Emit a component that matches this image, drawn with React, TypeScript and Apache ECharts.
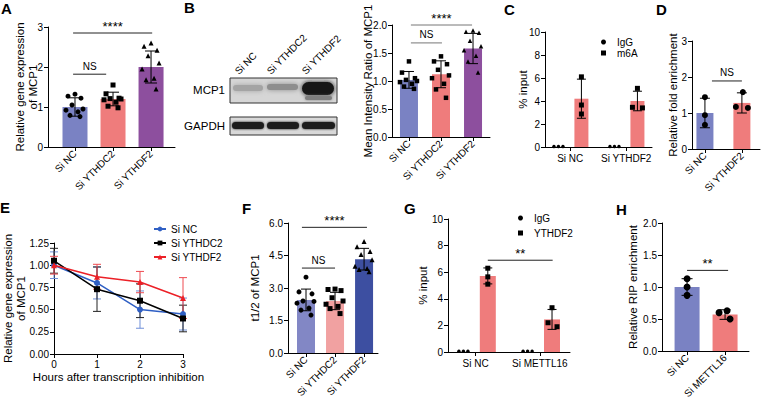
import React, { useEffect, useRef } from 'react';
import * as echarts from 'echarts';

const FONT = '"Liberation Sans", Arial, Helvetica, sans-serif';

// ---------- categories ----------
const catsThree = ['Si NC', 'Si YTHDC2', 'Si YTHDF2'];
const catsTwoF2 = ['Si NC', 'Si YTHDF2'];
const catsTwoM16 = ['Si NC', 'Si METTL16'];

// ---------- A ----------
const aMean = [1.0, 1.2, 2.0];
const aSD = [0.23, 0.17, 0.4];
const aSiNC = [1.32, 1.27, 1.22, 1.05, 0.95, 0.92, 0.88, 0.79, 0.76];
const aSiYTHDC2 = [1.55, 1.33, 1.22, 1.21, 1.2, 1.18, 1.12, 1.02, 0.98];
const aSiYTHDF2 = [2.6, 2.52, 2.42, 2.28, 2.1, 1.95, 1.72, 1.68, 1.45];

// ---------- B ----------
const bMean = [1.02, 1.12, 1.58];
const bSD = [0.15, 0.24, 0.27];
const bSiNC = [1.35, 1.15, 1.05, 1.02, 1.0, 0.98, 0.95, 0.9, 0.86];
const bSiYTHDC2 = [1.44, 1.35, 1.3, 1.2, 1.1, 1.05, 0.95, 0.85, 0.7];
const bSiYTHDF2 = [1.9, 1.88, 1.86, 1.72, 1.62, 1.55, 1.45, 1.35, 1.15];

// ---------- C ----------
const cM6AMean = [4.2, 4.0];
const cM6ASD = [1.7, 0.85];
const cIgGNC = [0.05, 0.05, 0.05];
const cIgGF2 = [0.05, 0.05, 0.05];
const cM6ANC = [6.1, 3.65, 2.87];
const cM6AF2 = [5.1, 3.45, 3.4];

// ---------- D ----------
const dMean = [1.0, 1.28];
const dSD = [0.41, 0.28];
const dSiNC = [1.44, 0.94, 0.67];
const dSiYTHDF2 = [1.58, 1.17, 1.14];

// ---------- E ----------
const eHours = [0, 1, 2, 3];
const eSiNC = [1.0, 0.8, 0.5, 0.45];
const eSiNCsd = [0.15, 0.18, 0.21, 0.18];
const eSiYTHDC2 = [1.05, 0.73, 0.6, 0.4];
const eSiYTHDC2sd = [0.14, 0.25, 0.19, 0.15];
const eSiYTHDF2 = [1.0, 0.87, 0.81, 0.63];
const eSiYTHDF2sd = [0.1, 0.14, 0.12, 0.23];

// ---------- F ----------
const fMean = [2.45, 2.4, 4.33];
const fSD = [0.5, 0.4, 0.5];
const fSiNC = [3.5, 2.82, 2.73, 2.4, 2.38, 2.3, 2.07, 1.98, 1.75];
const fSiYTHDC2 = [2.95, 2.93, 2.88, 2.55, 2.4, 2.25, 2.15, 2.05, 1.82];
const fSiYTHDF2 = [5.15, 4.9, 4.68, 4.55, 4.3, 4.0, 3.9, 3.85, 3.75];

// ---------- G ----------
const gYTHDF2Mean = [5.72, 2.45];
const gYTHDF2SD = [0.6, 0.75];
const gIgGNC = [0.05, 0.05, 0.05];
const gIgGM16 = [0.05, 0.05, 0.05];
const gYTHDF2NC = [6.3, 5.65, 5.1];
const gYTHDF2M16 = [3.33, 2.2, 1.9];

// ---------- H ----------
const hMean = [1.0, 0.57];
const hSD = [0.13, 0.075];
const hSiNC = [1.13, 1.0, 0.87];
const hSiMETTL16 = [0.63, 0.6, 0.5];

// jitter patterns (pixels)
const J9 = [0, -7, 6, -3, 8, -9, 3, -5, 5];
const J3V = [0, 0, 0];
const J3H = [-4.5, 0, 4.5];

const BLUE = '#7a82c3';
const SALMON = '#ef7c7c';
const PURPLE = '#8d4f9e';

interface DotGroup { x: number; vals: number[]; sym: string; size: number; jit: number[] }
interface BarItem { x: number; mean: number; sd: number; color: string }
interface Bracket { x1: number; x2: number; y: number; label: string }
interface BarPanel {
  left: number; top: number; width: number; height: number;
  xMin: number; xMax: number; yMax: number; yStep: number; yDigits: number;
  cats: string[]; catPos: number[]; rotate: number;
  yName: string; nameGap: number; bw: number; cap: number; bracketColor: string;
  bars: BarItem[]; dots: DotGroup[]; brackets: Bracket[];
}

const axisLine = { show: true, onZero: false, lineStyle: { color: '#000', width: 1 } };
const tickStyle = { color: '#000', width: 1 };

function errorSeries(gi: number, data: number[][], cap: number, color: string, z: number) {
  return {
    type: 'custom', xAxisIndex: gi, yAxisIndex: gi, z, silent: true, clip: false,
    data,
    renderItem: (_p: any, api: any) => {
      const x = api.value(0), m = api.value(1), s = api.value(2);
      const hi = api.coord([x, m + s]);
      const lo = api.coord([x, m - s]);
      const c = cap / 2;
      const st = { stroke: color, lineWidth: 1 };
      return {
        type: 'group', children: [
          { type: 'line', shape: { x1: hi[0], y1: hi[1], x2: lo[0], y2: lo[1] }, style: st },
          { type: 'line', shape: { x1: hi[0] - c, y1: hi[1], x2: hi[0] + c, y2: hi[1] }, style: st },
          { type: 'line', shape: { x1: lo[0] - c, y1: lo[1], x2: lo[0] + c, y2: lo[1] }, style: st },
        ],
      };
    },
  };
}

function buildBarPanel(p: BarPanel, gi: number) {
  const ppu = p.width / (p.xMax - p.xMin);
  const grid = { left: p.left, top: p.top, width: p.width, height: p.height };
  const labelFor = (v: number) => {
    const i = p.catPos.findIndex((c) => Math.abs(c - v) < 1e-6);
    return i >= 0 ? p.cats[i] : '';
  };
  const xAxis = {
    gridIndex: gi, type: 'value', min: p.xMin, max: p.xMax,
    axisLine, splitLine: { show: false },
    axisTick: { show: true, customValues: p.catPos, length: 4, lineStyle: tickStyle },
    axisLabel: {
      show: true, customValues: p.catPos, formatter: labelFor, rotate: p.rotate,
      fontSize: 10, color: '#000', fontFamily: FONT, margin: p.rotate ? 5 : 6,
    },
  };
  const yAxis = {
    gridIndex: gi, type: 'value', min: 0, max: p.yMax, interval: p.yStep,
    axisLine, splitLine: { show: false },
    axisTick: { show: true, length: 4, lineStyle: tickStyle },
    axisLabel: { fontSize: 10, color: '#000', fontFamily: FONT, margin: 5, formatter: (v: number) => v.toFixed(p.yDigits) },
    name: p.yName, nameLocation: 'middle', nameGap: p.nameGap, nameRotate: 90, nameMoveOverlap: false,
    nameTextStyle: { fontSize: 11.5, color: '#000', fontFamily: FONT, lineHeight: 13 },
  };
  const series: any[] = [];
  const barColors = p.bars.map((b) => b.color);
  series.push({
    type: 'custom', xAxisIndex: gi, yAxisIndex: gi, z: 2, silent: true, clip: false,
    data: p.bars.map((b) => [b.x, b.mean]),
    renderItem: (params: any, api: any) => {
      const x = api.value(0), y = api.value(1);
      const t = api.coord([x, y]);
      const b = api.coord([x, 0]);
      return { type: 'rect', shape: { x: t[0] - p.bw / 2, y: t[1], width: p.bw, height: b[1] - t[1] }, style: { fill: barColors[params.dataIndex] } };
    },
  });
  series.push(errorSeries(gi, p.bars.map((b) => [b.x, b.mean, b.sd]), p.cap, '#000', 3));
  p.dots.forEach((d) => {
    series.push({
      type: 'scatter', xAxisIndex: gi, yAxisIndex: gi, z: 4, silent: true,
      symbol: d.sym, symbolSize: d.size, itemStyle: { color: '#000', opacity: 1 },
      data: d.vals.map((v, i) => [d.x + d.jit[i] / ppu, v]),
    });
  });
  if (p.brackets.length) {
    const br = p.brackets;
    series.push({
      type: 'custom', xAxisIndex: gi, yAxisIndex: gi, z: 5, silent: true, clip: false,
      data: br.map((b) => [b.x1, b.y, b.x2]),
      renderItem: (params: any, api: any) => {
        const b = br[params.dataIndex];
        const p1 = api.coord([b.x1, b.y]);
        const p2 = api.coord([b.x2, b.y]);
        const isNS = b.label === 'NS';
        return {
          type: 'group', children: [
            { type: 'line', shape: { x1: p1[0], y1: p1[1], x2: p2[0], y2: p2[1] }, style: { stroke: p.bracketColor, lineWidth: 1 } },
            {
              type: 'text', x: (p1[0] + p2[0]) / 2, y: p1[1] - (isNS ? 3 : 0),
              style: { text: b.label, fontSize: isNS ? 10 : 13, fontFamily: FONT, fill: '#000', align: 'center', verticalAlign: 'bottom' },
            },
          ],
        };
      },
    });
  }
  return { grid, xAxis, yAxis, series };
}

const panels: BarPanel[] = [
  // A
  {
    left: 48, top: 27, width: 127, height: 120, xMin: -0.71, xMax: 2.63, yMax: 3, yStep: 1, yDigits: 0,
    cats: catsThree, catPos: [0, 1, 2], rotate: 45, yName: 'Relative gene expression\nof MCP1', nameGap: 9, bw: 25, cap: 12, bracketColor: '#222',
    bars: [
      { x: 0, mean: aMean[0], sd: aSD[0], color: BLUE },
      { x: 1, mean: aMean[1], sd: aSD[1], color: SALMON },
      { x: 2, mean: aMean[2], sd: aSD[2], color: PURPLE },
    ],
    dots: [
      { x: 0, vals: aSiNC, sym: 'circle', size: 5, jit: J9 },
      { x: 1, vals: aSiYTHDC2, sym: 'rect', size: 5, jit: J9 },
      { x: 2, vals: aSiYTHDF2, sym: 'triangle', size: 5, jit: J9 },
    ],
    brackets: [
      { x1: -0.05, x2: 0.82, y: 1.82, label: 'NS' },
      { x1: -0.05, x2: 2.03, y: 2.85, label: '****' },
    ],
  },
  // B
  {
    left: 392, top: 25, width: 98, height: 112, xMin: -0.53, xMax: 2.53, yMax: 2, yStep: 0.5, yDigits: 1,
    cats: catsThree, catPos: [0, 1, 2], rotate: 45, yName: 'Mean Intensity Ratio of MCP1', nameGap: 18, bw: 18, cap: 10, bracketColor: '#777',
    bars: [
      { x: 0, mean: bMean[0], sd: bSD[0], color: BLUE },
      { x: 1, mean: bMean[1], sd: bSD[1], color: SALMON },
      { x: 2, mean: bMean[2], sd: bSD[2], color: PURPLE },
    ],
    dots: [
      { x: 0, vals: bSiNC, sym: 'rect', size: 4.5, jit: J9 },
      { x: 1, vals: bSiYTHDC2, sym: 'rect', size: 4.5, jit: J9 },
      { x: 2, vals: bSiYTHDF2, sym: 'triangle', size: 4.5, jit: J9 },
    ],
    brackets: [
      { x1: 0.06, x2: 1.03, y: 1.68, label: 'NS' },
      { x1: 0.06, x2: 1.97, y: 2.0, label: '****' },
    ],
  },
  // C
  {
    left: 545, top: 32, width: 107, height: 115, xMin: -0.45, xMax: 1.46, yMax: 10, yStep: 2, yDigits: 0,
    cats: catsTwoF2, catPos: [0, 1], rotate: 0, yName: '% input', nameGap: 16, bw: 14, cap: 9, bracketColor: '#222',
    bars: [
      { x: 0.2, mean: cM6AMean[0], sd: cM6ASD[0], color: SALMON },
      { x: 1.2, mean: cM6AMean[1], sd: cM6ASD[1], color: SALMON },
    ],
    dots: [
      { x: -0.21, vals: cIgGNC, sym: 'circle', size: 3.5, jit: J3H },
      { x: 0.79, vals: cIgGF2, sym: 'circle', size: 3.5, jit: J3H },
      { x: 0.2, vals: cM6ANC, sym: 'rect', size: 5, jit: J3V },
      { x: 1.2, vals: cM6AF2, sym: 'rect', size: 5, jit: [0, -5, 5] },
    ],
    brackets: [],
  },
  // D
  {
    left: 692, top: 41, width: 68, height: 108, xMin: -0.35, xMax: 1.49, yMax: 3, yStep: 1, yDigits: 0,
    cats: catsTwoF2, catPos: [0, 1], rotate: 45, yName: 'Relative fold enrichment', nameGap: 13, bw: 17, cap: 10, bracketColor: '#222',
    bars: [
      { x: 0, mean: dMean[0], sd: dSD[0], color: BLUE },
      { x: 1, mean: dMean[1], sd: dSD[1], color: SALMON },
    ],
    dots: [
      { x: 0, vals: dSiNC, sym: 'circle', size: 6, jit: J3V },
      { x: 1, vals: dSiYTHDF2, sym: 'circle', size: 6, jit: [1, -6, 6] },
    ],
    brackets: [{ x1: 0.19, x2: 1.0, y: 1.89, label: 'NS' }],
  },
  // F
  {
    left: 288, top: 223, width: 90, height: 130, xMin: -0.62, xMax: 2.48, yMax: 6, yStep: 1.5, yDigits: 1,
    cats: catsThree, catPos: [0, 1, 2], rotate: 45, yName: 't1/2 of MCP1', nameGap: 27, bw: 18, cap: 10, bracketColor: '#222',
    bars: [
      { x: 0, mean: fMean[0], sd: fSD[0], color: '#8287c5' },
      { x: 1, mean: fMean[1], sd: fSD[1], color: '#f1a1a1' },
      { x: 2, mean: fMean[2], sd: fSD[2], color: '#3d4fa1' },
    ],
    dots: [
      { x: 0, vals: fSiNC, sym: 'circle', size: 5, jit: J9 },
      { x: 1, vals: fSiYTHDC2, sym: 'rect', size: 5, jit: J9 },
      { x: 2, vals: fSiYTHDF2, sym: 'triangle', size: 5, jit: J9 },
    ],
    brackets: [
      { x1: -0.14, x2: 1.0, y: 3.92, label: 'NS' },
      { x1: -0.14, x2: 2.1, y: 5.8, label: '****' },
    ],
  },
  // G
  {
    left: 448, top: 219, width: 122, height: 133, xMin: -0.43, xMax: 1.47, yMax: 10, yStep: 2, yDigits: 0,
    cats: catsTwoM16, catPos: [0, 1], rotate: 0, yName: '% input', nameGap: 19, bw: 16, cap: 9, bracketColor: '#222',
    bars: [
      { x: 0.19, mean: gYTHDF2Mean[0], sd: gYTHDF2SD[0], color: SALMON },
      { x: 1.19, mean: gYTHDF2Mean[1], sd: gYTHDF2SD[1], color: SALMON },
    ],
    dots: [
      { x: -0.19, vals: gIgGNC, sym: 'circle', size: 3.5, jit: J3H },
      { x: 0.81, vals: gIgGM16, sym: 'circle', size: 3.5, jit: J3H },
      { x: 0.19, vals: gYTHDF2NC, sym: 'rect', size: 5, jit: J3V },
      { x: 1.19, vals: gYTHDF2M16, sym: 'rect', size: 5, jit: [0, -4, 5] },
    ],
    brackets: [{ x1: 0.19, x2: 1.2, y: 6.9, label: '**' }],
  },
  // H
  {
    left: 662, top: 223, width: 87, height: 129, xMin: -0.66, xMax: 1.63, yMax: 2, yStep: 0.5, yDigits: 1,
    cats: catsTwoM16, catPos: [0, 1], rotate: 45, yName: 'Relative RIP enrichment', nameGap: 23, bw: 25, cap: 11, bracketColor: '#222',
    bars: [
      { x: 0, mean: hMean[0], sd: hSD[0], color: BLUE },
      { x: 1, mean: hMean[1], sd: hSD[1], color: SALMON },
    ],
    dots: [
      { x: 0, vals: hSiNC, sym: 'circle', size: 7, jit: J3V },
      { x: 1, vals: hSiMETTL16, sym: 'circle', size: 7, jit: [2, -6, 5] },
    ],
    brackets: [{ x1: 0, x2: 1.08, y: 1.26, label: '**' }],
  },
];

function buildOption() {
  const grids: any[] = [];
  const xAxes: any[] = [];
  const yAxes: any[] = [];
  const series: any[] = [];

  panels.forEach((p, gi) => {
    const r = buildBarPanel(p, gi);
    grids.push(r.grid);
    xAxes.push(r.xAxis);
    yAxes.push(r.yAxis);
    series.push(...r.series);
  });

  // names for legend-bearing scatter series (C and G)
  const cIdx = 2, gIdx = 5;
  let cCount = 0, gCount = 0;
  series.forEach((s) => {
    if (s.type === 'scatter' && s.xAxisIndex === cIdx) {
      s.name = cCount < 2 ? 'IgG' : 'm6A';
      cCount++;
    }
    if (s.type === 'scatter' && s.xAxisIndex === gIdx) {
      s.name = gCount < 2 ? 'IgG' : 'YTHDF2';
      gCount++;
    }
  });

  // E: line chart
  const ei = grids.length;
  grids.push({ left: 53, top: 243, width: 130, height: 111 });
  xAxes.push({
    gridIndex: ei, type: 'value', min: 0, max: 3, interval: 1,
    axisLine, splitLine: { show: false },
    axisTick: { show: true, length: 4, lineStyle: tickStyle },
    axisLabel: { fontSize: 10, color: '#000', fontFamily: FONT, margin: 5 },
    name: 'Hours after transcription inhibition', nameLocation: 'middle', nameGap: 17, nameMoveOverlap: false,
    nameTextStyle: { fontSize: 11.5, color: '#000', fontFamily: FONT },
  });
  yAxes.push({
    gridIndex: ei, type: 'value', min: 0, max: 1.25, interval: 0.25,
    axisLine, splitLine: { show: false },
    axisTick: { show: true, length: 4, lineStyle: tickStyle },
    axisLabel: { fontSize: 10, color: '#000', fontFamily: FONT, margin: 5, formatter: (v: number) => v.toFixed(2) },
    name: 'Relative gene expression\nof MCP1', nameLocation: 'middle', nameGap: 27, nameRotate: 90, nameMoveOverlap: false,
    nameTextStyle: { fontSize: 11.5, color: '#000', fontFamily: FONT, lineHeight: 13 },
  });
  const eLines = [
    { name: 'Si NC', vals: eSiNC, sd: eSiNCsd, color: '#2f5fc4', err: '#6f8fd8', sym: 'circle' },
    { name: 'Si YTHDC2', vals: eSiYTHDC2, sd: eSiYTHDC2sd, color: '#000000', err: '#222222', sym: 'rect' },
    { name: 'Si YTHDF2', vals: eSiYTHDF2, sd: eSiYTHDF2sd, color: '#ec2027', err: '#ee4a50', sym: 'triangle' },
  ];
  eLines.forEach((l, k) => {
    series.push(errorSeries(ei, eHours.map((h, i) => [h, l.vals[i], l.sd[i]]), 8, l.err, 3 + k));
  });
  eLines.forEach((l, k) => {
    series.push({
      type: 'line', name: l.name, xAxisIndex: ei, yAxisIndex: ei, z: 6 + k, silent: true,
      symbol: l.sym, symbolSize: 6, showSymbol: true,
      lineStyle: { color: l.color, width: 1.5 }, itemStyle: { color: l.color },
      data: eHours.map((h, i) => [h, l.vals[i]]),
    });
  });

  const legendBase = {
    orient: 'vertical', selectedMode: false, padding: 0,
    textStyle: { fontSize: 10, color: '#000', fontFamily: FONT },
  };
  const markerLegend = {
    ...legendBase,
    itemWidth: 5, itemHeight: 5,
    textStyle: { fontSize: 10, color: '#000', fontFamily: FONT, padding: [0, 0, 0, 6] },
  };

  const letter = (t: string, x: number, y: number) => ({
    type: 'text', x, y, silent: true,
    style: { text: t, fontSize: 15, fontWeight: 'bold', fontFamily: FONT, fill: '#000', align: 'left', verticalAlign: 'top' },
  });

  const blotLabel = (t: string, x: number, y: number) => ({
    type: 'text', x, y, rotation: Math.PI / 4, silent: true,
    style: { text: t, fontSize: 10, fontFamily: FONT, fill: '#000', align: 'left', verticalAlign: 'bottom' },
  });

  const band = (x: number, y: number, w: number, h: number, fill: string, blur: number) => ({
    type: 'rect', silent: true, shape: { x, y, width: w, height: h, r: h / 2 },
    style: { fill, shadowBlur: blur, shadowColor: fill },
  });

  const graphic = [
    letter('A', 1, 1), letter('B', 184, 0), letter('C', 504, 2), letter('D', 656, 2),
    letter('E', 0, 200), letter('F', 242, 201), letter('G', 404, 201), letter('H', 616, 202),
    // blot lane labels
    blotLabel('Si NC', 240, 76), blotLabel('Si YTHDC2', 272, 76), blotLabel('Si YTHDF2', 307, 76),
    // row labels
    { type: 'text', x: 225, y: 90, silent: true, style: { text: 'MCP1', fontSize: 11.5, fontFamily: FONT, fill: '#000', align: 'right', verticalAlign: 'middle' } },
    { type: 'text', x: 225, y: 126, silent: true, style: { text: 'GAPDH', fontSize: 11.5, fontFamily: FONT, fill: '#000', align: 'right', verticalAlign: 'middle' } },
    // MCP1 blot
    { type: 'rect', silent: true, shape: { x: 230, y: 78, width: 107, height: 25 }, style: { fill: '#d6d6d6', stroke: '#333', lineWidth: 1 } },
    band(233, 85, 30, 6, '#a4a4a4', 5),
    band(267, 84, 31, 6, '#8e8e8e', 5),
    band(302, 82, 32, 13, '#141414', 4),
    band(305, 96, 27, 4, '#7e7e7e', 3),
    // GAPDH blot
    { type: 'rect', silent: true, shape: { x: 230, y: 117, width: 107, height: 18 }, style: { fill: '#d8d8d8', stroke: '#333', lineWidth: 1 } },
    band(232, 122, 32, 7, '#1c1c1c', 2),
    band(267, 122, 32, 7, '#1c1c1c', 2),
    band(302, 122, 33, 7, '#1c1c1c', 2),
  ];

  return {
    animation: false,
    backgroundColor: '#fff',
    textStyle: { fontFamily: FONT },
    grid: grids,
    xAxis: xAxes,
    yAxis: yAxes,
    legend: [
      {
        ...legendBase, left: 153, top: 224, itemWidth: 12, itemHeight: 6, itemGap: 4,
        data: ['Si NC', 'Si YTHDC2', 'Si YTHDF2'],
      },
      {
        ...markerLegend, left: 601, top: 37, itemGap: 1,
        data: [{ name: 'IgG', icon: 'circle' }, { name: 'm6A', icon: 'rect' }],
      },
      {
        ...markerLegend, left: 518, top: 213, itemGap: 5,
        data: [{ name: 'IgG', icon: 'circle' }, { name: 'YTHDF2', icon: 'rect' }],
      },
    ],
    series,
    graphic,
  };
}

export default function App() {
  const ref = useRef<HTMLDivElement>(null);
  useEffect(() => {
    if (!ref.current) return;
    const chart = echarts.init(ref.current, null, { renderer: 'svg', width: 764, height: 401 });
    chart.setOption(buildOption() as any);
    return () => chart.dispose();
  }, []);
  return (
    <div
      ref={ref}
      style={{ position: 'absolute', left: 0, top: 0, width: 764, height: 401, background: '#fff' }}
    />
  );
}
